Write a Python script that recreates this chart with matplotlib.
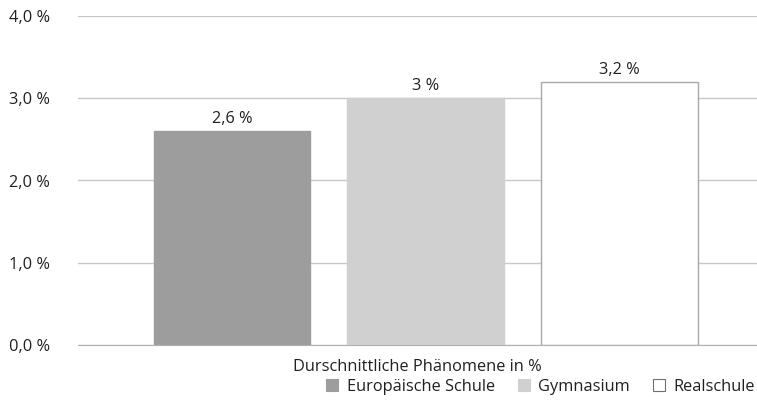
import matplotlib.pyplot as plt
from matplotlib.patches import Patch

# data
categories = ['Europäische Schule', 'Gymnasium', 'Realschule']
values = [2.6, 3.0, 3.2]
value_labels = ['2,6 %', '3 %', '3,2 %']
yticks = [0, 1, 2, 3, 4]
ytick_labels = ['0,0 %', '1,0 %', '2,0 %', '3,0 %', '4,0 %']
xlabel = 'Durschnittliche Phänomene in %'

colors = ['#9d9d9d', '#d0d0d0', '#ffffff']
edges = ['#9d9d9d', '#d0d0d0', '#a8a8a8']

plt.rcParams['font.family'] = ['Open Sans', 'DejaVu Sans']
txt = '#231f20'
fs = 11.8

fig = plt.figure(figsize=(7.57, 4.15), dpi=100)
ax = fig.add_axes([78 / 757, (415 - 345) / 415, (757 - 78) / 757, (345 - 16) / 415])

x = list(range(len(values)))
ax.bar(x, values, width=0.81, color=colors, edgecolor=edges, linewidth=1.0, zorder=3)
for xi, v, lab in zip(x, values, value_labels):
    ax.text(xi, v + 0.05, lab, ha='center', va='bottom', fontsize=fs, color=txt)

ax.set_ylim(0, 4)
ax.set_xlim(-0.795, 2.71)
ax.set_yticks(yticks)
ax.set_yticklabels(ytick_labels, fontsize=fs, color=txt)
ax.tick_params(axis='y', length=0, pad=20)
ax.set_xticks([])
ax.yaxis.grid(True, color='#c8c8c8', linewidth=1.0, zorder=0)
for s in ['top', 'right', 'left']:
    ax.spines[s].set_visible(False)
ax.spines['bottom'].set_color('#b0b0b0')
ax.spines['bottom'].set_zorder(4)

ax.set_xlabel(xlabel, fontsize=fs, color=txt, labelpad=10)

handles = [Patch(facecolor=c, edgecolor=e, linewidth=0.8) for c, e in zip(colors, ['#9d9d9d', '#d0d0d0', '#707070'])]
fig.legend(handles, categories, loc='center right', bbox_to_anchor=(1.01, 1 - 387 / 415),
           ncol=3, frameon=False, fontsize=fs, handlelength=0.75, handleheight=0.75,
           handletextpad=0.5, columnspacing=1.4, labelcolor=txt, borderpad=0.1)

plt.savefig('out.png', dpi=100)
